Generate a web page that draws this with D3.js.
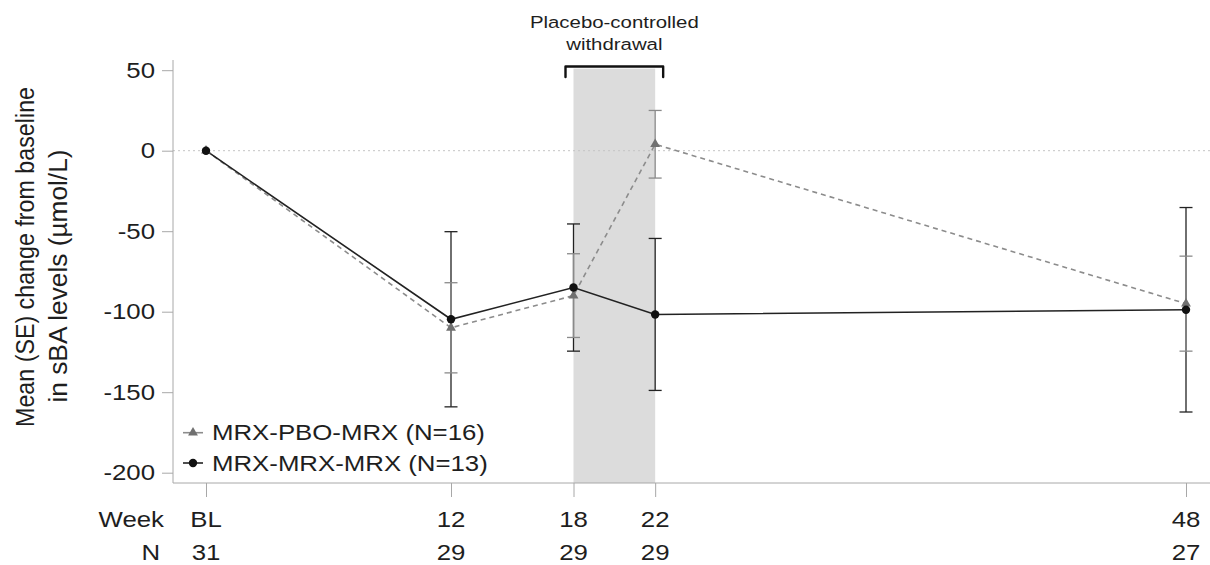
<!DOCTYPE html>
<html>
  <head>
    <meta charset="utf-8">
    <title>Change in sBA levels</title>
    <script src="https://d3js.org/d3.v7.min.js"></script>
    <style type="text/css">
      body {
        margin: 0;
        background: #ffffff;
      }
      text {
        font-family: "Liberation Sans", Arial, sans-serif;
        fill: #1e1e1e;
      }
    </style>
  </head>
  <body>
    <script>
      // Data
      var weeks = [0, 12, 18, 22, 48];
      var weekLabels = ["BL", "12", "18", "22", "48"];
      var nCounts = [31, 29, 29, 29, 27];
      var pboMean = [0, -110, -90, 4, -95];
      var pboSE = [0, 28, 26, 21, 29.5];
      var mrxMean = [0, -104.7, -85, -101.7, -98.8];
      var mrxSE = [0, 54.4, 39.5, 47.2, 63.5];
      var yTicks = [50, 0, -50, -100, -150, -200];
      var seriesNames = ["MRX-PBO-MRX (N=16)", "MRX-MRX-MRX (N=13)"];
      var withdrawal = [18, 22];

      var svgWidth = 1210;
      var svgHeight = 565;
      var sx = 1.2;  // the picture is stretched sideways, text too
      var axisLeft = 173;
      var axisBottom = 483;
      var axisTop = 60;

      var svg = d3.select("body")
                  .append("svg")
                  .attr("width", svgWidth)
                  .attr("height", svgHeight);

      var xScale = d3.scaleLinear()
                     .domain([0, 48])
                     .range([206, 1186]);

      var yScale = d3.scaleLinear()
                     .domain([-200, 50])
                     .range([472.7, 70.2]);

      function addText(x, y, str, size, anchor) {
          return svg.append("text")
                    .attr("transform", "translate(" + x + "," + y + ") scale(" + sx + ",1)")
                    .attr("text-anchor", anchor)
                    .style("font-size", size + "px")
                    .text(str);
      }

      // Shaded withdrawal period
      svg.append("rect")
         .attr("x", xScale(withdrawal[0]))
         .attr("y", yScale(51))
         .attr("width", xScale(withdrawal[1]) - xScale(withdrawal[0]))
         .attr("height", axisBottom - yScale(51))
         .attr("fill", "#dcdcdc");

      // Bracket and label above it
      var bx0 = xScale(withdrawal[0]) - 8;
      var bx1 = xScale(withdrawal[1]) + 8;
      svg.append("path")
         .attr("d", "M" + bx0 + ",77 L" + bx0 + ",66.5 L" + bx1 + ",66.5 L" + bx1 + ",77")
         .attr("fill", "none")
         .attr("stroke", "#111")
         .attr("stroke-width", 2.4)
         .attr("stroke-linejoin", "round")
         .attr("stroke-linecap", "round");

      var midX = (xScale(withdrawal[0]) + xScale(withdrawal[1])) / 2;
      addText(midX, 28, "Placebo-controlled", 17, "middle");
      addText(midX, 50, "withdrawal", 17, "middle");

      // Zero reference line
      svg.append("line")
         .attr("x1", axisLeft)
         .attr("x2", svgWidth)
         .attr("y1", yScale(0))
         .attr("y2", yScale(0))
         .attr("stroke", "#c4c4c4")
         .attr("stroke-width", 1)
         .attr("stroke-dasharray", "2,3");

      // Y axis
      var yAxis = d3.axisLeft(yScale)
                    .tickValues(yTicks)
                    .tickSize(11)
                    .tickSizeOuter(0)
                    .tickFormat(function(d) { return String(d); });

      var gy = svg.append("g")
                  .attr("transform", "translate(" + axisLeft + ",0)")
                  .call(yAxis);
      gy.select(".domain").remove();
      gy.selectAll(".tick line").attr("stroke", "#a8a8a8");
      gy.selectAll(".tick text")
        .attr("x", -18 / sx)
        .attr("transform", "scale(" + sx + ",1)")
        .style("font-size", "21.5px")
        .style("font-family", "'Liberation Sans', Arial, sans-serif")
        .attr("fill", "#1e1e1e");
      svg.append("line")
         .attr("x1", axisLeft).attr("x2", axisLeft)
         .attr("y1", axisTop).attr("y2", axisBottom)
         .attr("stroke", "#a8a8a8");

      // X axis
      var xAxis = d3.axisBottom(xScale)
                    .tickValues(weeks)
                    .tickSize(14)
                    .tickFormat("");
      var gx = svg.append("g")
                  .attr("transform", "translate(0," + axisBottom + ")")
                  .call(xAxis);
      gx.select(".domain").remove();
      gx.selectAll(".tick line").attr("stroke", "#a8a8a8");
      svg.append("line")
         .attr("x1", axisLeft).attr("x2", svgWidth)
         .attr("y1", axisBottom).attr("y2", axisBottom)
         .attr("stroke", "#a8a8a8");

      // Week and N rows under the axis
      addText(164, 527, "Week", 21.5, "end");
      addText(160, 560, "N", 21.5, "end");
      weeks.forEach(function(w, i) {
          addText(xScale(w), 527, weekLabels[i], 21.5, "middle");
          addText(xScale(w), 560, nCounts[i], 21.5, "middle");
      });

      // Y label
      var yLabel = [
          {text: "Mean (SE) change from baseline", x: 34, y: 257, len: 340},
          {text: "in sBA levels (\u00b5mol/L)", x: 67, y: 276, len: 253}
      ];
      yLabel.forEach(function(l) {
          svg.append("text")
             .attr("transform", "translate(" + l.x + "," + l.y + ") scale(" + sx + ",1) rotate(-90)")
             .attr("text-anchor", "middle")
             .attr("textLength", l.len)
             .attr("lengthAdjust", "spacingAndGlyphs")
             .style("font-size", "21.5px")
             .text(l.text);
      });

      // Error bars
      function errorBars(means, ses, color, width) {
          var g = svg.append("g");
          weeks.forEach(function(w, i) {
              if (ses[i] === 0) return;
              var cx = xScale(w);
              var top = yScale(means[i] + ses[i]);
              var bot = yScale(means[i] - ses[i]);
              g.append("line")
               .attr("x1", cx).attr("x2", cx)
               .attr("y1", top).attr("y2", bot)
               .attr("stroke", color).attr("stroke-width", width);
              [top, bot].forEach(function(yy) {
                  g.append("line")
                   .attr("x1", cx - 6.5).attr("x2", cx + 6.5)
                   .attr("y1", yy).attr("y2", yy)
                   .attr("stroke", color).attr("stroke-width", width);
              });
          });
      }
      errorBars(mrxMean, mrxSE, "#222", 1.3);
      errorBars(pboMean, pboSE, "#8a8a8a", 1.3);

      // Lines
      var line = d3.line()
                   .x(function(d) { return xScale(d[0]); })
                   .y(function(d) { return yScale(d[1]); });

      var pboPoints = d3.zip(weeks, pboMean);
      var mrxPoints = d3.zip(weeks, mrxMean);

      svg.append("path")
         .attr("d", line(pboPoints))
         .attr("fill", "none")
         .attr("stroke", "#8c8c8c")
         .attr("stroke-width", 1.6)
         .attr("stroke-dasharray", "5,4");

      svg.append("path")
         .attr("d", line(mrxPoints))
         .attr("fill", "none")
         .attr("stroke", "#222")
         .attr("stroke-width", 1.6);

      // Markers
      var triangle = d3.symbol().type(d3.symbolTriangle).size(42);

      svg.selectAll(".tri")
         .data(pboPoints)
         .enter()
         .append("path")
         .attr("class", "tri")
         .attr("d", triangle)
         .attr("transform", function(d) {
             return "translate(" + xScale(d[0]) + "," + yScale(d[1]) + ")";
         })
         .attr("fill", "#707070");

      svg.selectAll(".dot")
         .data(mrxPoints)
         .enter()
         .append("circle")
         .attr("class", "dot")
         .attr("cx", function(d) { return xScale(d[0]); })
         .attr("cy", function(d) { return yScale(d[1]); })
         .attr("r", 4.2)
         .attr("fill", "#111");

      // Legend
      var legendY = [432.7, 463];
      svg.append("line")
         .attr("x1", 183).attr("x2", 203)
         .attr("y1", legendY[0]).attr("y2", legendY[0])
         .attr("stroke", "#8c8c8c").attr("stroke-width", 1.6);
      svg.append("path")
         .attr("d", triangle)
         .attr("transform", "translate(193," + legendY[0] + ")")
         .attr("fill", "#707070");
      svg.append("line")
         .attr("x1", 183).attr("x2", 203)
         .attr("y1", legendY[1]).attr("y2", legendY[1])
         .attr("stroke", "#222").attr("stroke-width", 1.6);
      svg.append("circle")
         .attr("cx", 193).attr("cy", legendY[1])
         .attr("r", 4.2)
         .attr("fill", "#111");

      addText(212, legendY[0] + 7.5, seriesNames[0], 21.5, "start");
      addText(212, legendY[1] + 7.5, seriesNames[1], 21.5, "start");
    </script>
  </body>
</html>
